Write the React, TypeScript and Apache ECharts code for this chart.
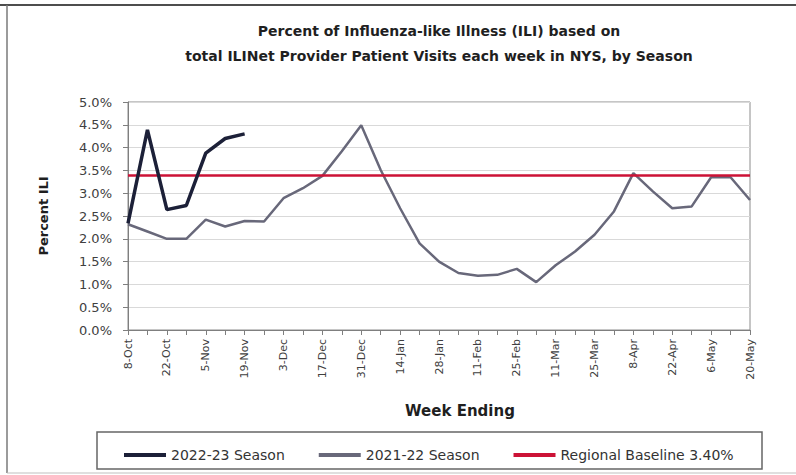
import React, { useEffect, useRef } from "react";
import * as echarts from "echarts";

const weeks = [
  "8-Oct", "15-Oct", "22-Oct", "29-Oct", "5-Nov", "12-Nov", "19-Nov", "26-Nov",
  "3-Dec", "10-Dec", "17-Dec", "24-Dec", "31-Dec", "7-Jan", "14-Jan", "21-Jan",
  "28-Jan", "4-Feb", "11-Feb", "18-Feb", "25-Feb", "4-Mar", "11-Mar", "18-Mar",
  "25-Mar", "1-Apr", "8-Apr", "15-Apr", "22-Apr", "29-Apr", "6-May", "13-May", "20-May",
];

const season2223 = [2.34, 4.39, 2.64, 2.73, 3.88, 4.2, 4.3];

const season2122 = [
  2.32, 2.16, 2.0, 2.0, 2.42, 2.27, 2.39, 2.38,
  2.89, 3.11, 3.38, 3.92, 4.49, 3.51, 2.67, 1.9,
  1.5, 1.25, 1.19, 1.21, 1.34, 1.05, 1.42, 1.72,
  2.09, 2.6, 3.44, 3.04, 2.67, 2.71, 3.35, 3.35, 2.85,
];

const baseline = 3.4;

const seriesNames = ["2022-23 Season", "2021-22 Season", "Regional Baseline 3.40%"];
const titleLines = [
  "Percent of Influenza-like Illness (ILI) based on",
  "total ILINet Provider Patient Visits each week in NYS, by Season",
];

const FONT = "DejaVu Sans";

export default function App() {
  const ref = useRef<HTMLDivElement>(null);
  useEffect(() => {
    if (!ref.current) return;
    const chart = echarts.init(ref.current, undefined, { renderer: "svg" });
    chart.setOption({
      animation: false,
      backgroundColor: "#ffffff",
      title: {
        text: titleLines.join("\n"),
        left: 434,
        textAlign: "center",
        top: 13,
        textStyle: {
          fontFamily: FONT,
          fontSize: 14,
          fontWeight: "bold",
          color: "#1f1f1f",
          lineHeight: 25,
        },
      },
      legend: {
        data: seriesNames,
        left: 119,
        top: 443,
        icon: "rect",
        itemWidth: 42,
        itemHeight: 4,
        itemGap: 34,
        textStyle: { fontFamily: FONT, fontSize: 14, color: "#333333" },
      },
      grid: {
        left: 128,
        right: 46,
        top: 102,
        bottom: 145,
        show: true,
        borderColor: "#8c8c8c",
        borderWidth: 1,
        backgroundColor: "#ffffff",
      },
      xAxis: {
        type: "category",
        data: weeks,
        boundaryGap: false,
        name: "Week Ending",
        nameLocation: "middle",
        nameGap: 73,
        nameTextStyle: {
          fontFamily: FONT,
          fontSize: 15,
          fontWeight: "bold",
          color: "#1f1f1f",
          padding: [0, 0, 0, 42],
        },
        axisLine: { lineStyle: { color: "#7f7f7f", width: 1 } },
        axisTick: { show: true, interval: 0, length: 5, lineStyle: { color: "#7f7f7f" } },
        axisLabel: {
          interval: 1,
          rotate: 90,
          margin: 9,
          fontFamily: FONT,
          fontSize: 11,
          color: "#404040",
        },
        splitLine: { show: false },
      },
      yAxis: {
        type: "value",
        min: 0,
        max: 5,
        interval: 0.5,
        name: "Percent ILI",
        nameLocation: "middle",
        nameGap: 78,
        nameTextStyle: {
          fontFamily: FONT,
          fontSize: 13,
          fontWeight: "bold",
          color: "#1f1f1f",
        },
        axisLine: { show: true, lineStyle: { color: "#7f7f7f", width: 1 } },
        axisTick: { show: true, length: 5, lineStyle: { color: "#7f7f7f" } },
        axisLabel: {
          margin: 16,
          fontFamily: FONT,
          fontSize: 13,
          color: "#404040",
          formatter: (v: number) => v.toFixed(1) + "%",
        },
        splitLine: { show: true, lineStyle: { color: "#d9d9d9", width: 1 } },
      },
      series: [
        {
          name: seriesNames[0],
          type: "line",
          data: season2223,
          symbol: "none",
          z: 5,
          lineStyle: { color: "#1c2038", width: 3.5 },
          itemStyle: { color: "#1c2038" },
        },
        {
          name: seriesNames[1],
          type: "line",
          data: season2122,
          symbol: "none",
          z: 3,
          lineStyle: { color: "#68687a", width: 2.5 },
          itemStyle: { color: "#68687a" },
        },
        {
          name: seriesNames[2],
          type: "line",
          data: [],
          symbol: "none",
          z: 4,
          lineStyle: { color: "#cc1236", width: 2.5 },
          itemStyle: { color: "#cc1236" },
          markLine: {
            silent: true,
            symbol: "none",
            label: { show: false },
            lineStyle: { color: "#cc1236", width: 2.5, type: "solid" },
            data: [{ yAxis: baseline }],
          },
        },
      ],
      graphic: [
        { type: "line", shape: { x1: 0, y1: 5, x2: 796, y2: 5 }, style: { stroke: "#4d4d4d", lineWidth: 2 } },
        { type: "line", shape: { x1: 7, y1: 5, x2: 7, y2: 473 }, style: { stroke: "#7a7a7a", lineWidth: 1.5 } },
        { type: "line", shape: { x1: 7, y1: 473, x2: 796, y2: 473 }, style: { stroke: "#bfbfbf", lineWidth: 1 } },
        { type: "rect", shape: { x: 97, y: 432, width: 665, height: 37 }, style: { fill: "none", stroke: "#666666", lineWidth: 1.5 }, z: -1 },
      ],
    });
    return () => chart.dispose();
  }, []);
  return <div ref={ref} style={{ position: "fixed", left: 0, top: 0, width: 796, height: 475 }} />;
}
